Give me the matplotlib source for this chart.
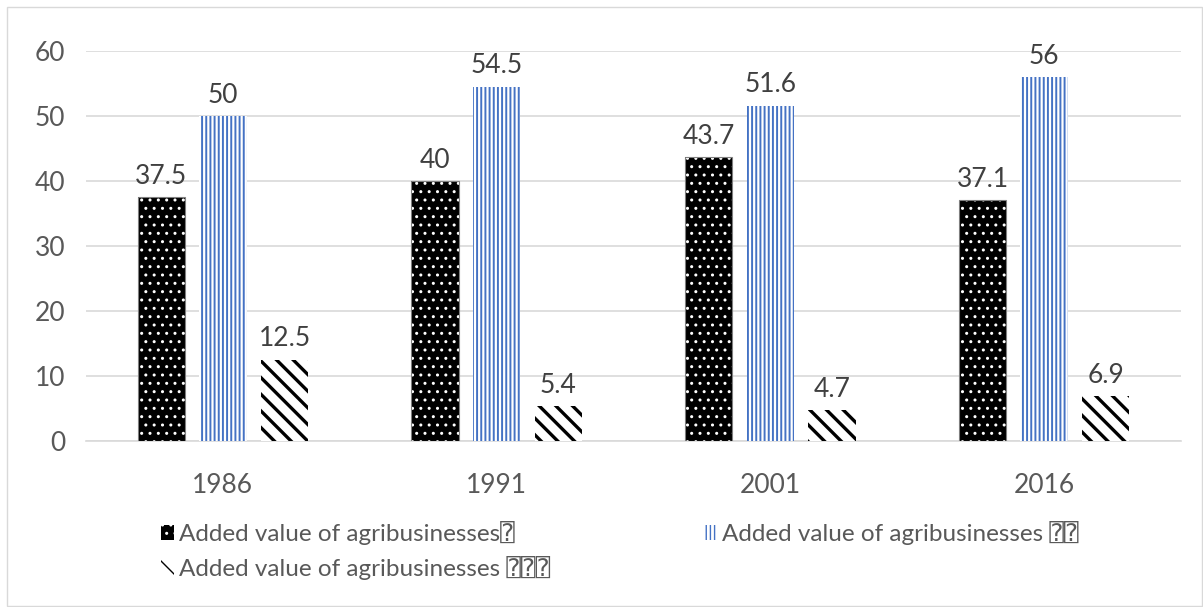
import matplotlib
matplotlib.use("Agg")
import matplotlib.pyplot as plt
import numpy as np
from matplotlib.patches import Rectangle, Patch

# Data
years = ["1986", "1991", "2001", "2016"]
series_a = [37.5, 40, 43.7, 37.1]
series_b = [50, 54.5, 51.6, 56]
series_c = [12.5, 5.4, 4.7, 6.9]
labels = [
    "Added value of agribusinesses\u2370",
    "Added value of agribusinesses \u2370\u2370",
    "Added value of agribusinesses \u2370\u2370\u2370",
]
y_ticks = [0, 10, 20, 30, 40, 50, 60]

FONT = ["Lato", "DejaVu Sans", "DejaVu Sans Mono"]
plt.rcParams["font.family"] = FONT

W, H = 1203, 607
fig = plt.figure(figsize=(W / 100, H / 100), dpi=100)
ax = fig.add_axes([86 / W, 1 - 441 / H, (1181 - 86) / W, (441 - 51) / H])

x = np.arange(len(years))
width = 0.173
step = 0.225

blue = "#4472C4"
grid_c = "#D9D9D9"
tick_c = "#595959"
lab_c = "#404040"

STYLE_A = ("black", "..", "white", 1.0)
STYLE_B = ("white", "||||", blue, 1.4)
STYLE_C = ("white", "\\\\", "black", 2.4)


def hatched_bar(xpos, vals, style):
    face, hatch, hcolor, hlw = style
    with plt.rc_context({"hatch.linewidth": hlw}):
        bars = ax.bar(xpos, vals, width, color=face, edgecolor=hcolor,
                      hatch=hatch, linewidth=0, zorder=3)
    for b in bars:
        if hasattr(b, "set_hatch_linewidth"):
            b.set_hatch_linewidth(hlw)
    return bars


bars_a = hatched_bar(x - step, series_a, STYLE_A)
ax.bar(x - step, series_a, width, fill=False, edgecolor="#7F7F7F",
       linewidth=0.8, zorder=4)
bars_b = hatched_bar(x, series_b, STYLE_B)
bars_c = hatched_bar(x + step, series_c, STYLE_C)

for bars in (bars_a, bars_b, bars_c):
    ax.bar_label(bars, labels=[f"{v:g}" for v in bars.datavalues],
                 padding=6, fontsize=19, color=lab_c)

ax.set_xlim(-0.5, len(years) - 0.5)
ax.set_ylim(0, 60)
ax.set_yticks(y_ticks)
ax.set_xticks(x)
ax.set_xticklabels(years)
ax.tick_params(axis="both", length=0, labelsize=19, colors=tick_c)
ax.tick_params(axis="y", pad=15)
ax.tick_params(axis="x", pad=23)
ax.yaxis.grid(True, color=grid_c, linewidth=1.2, zorder=0)
ax.set_axisbelow(True)
for s in ("top", "right", "left"):
    ax.spines[s].set_visible(False)
ax.spines["bottom"].set_color(grid_c)
ax.spines["bottom"].set_linewidth(1.2)


# Legend (row-wise order: first, second on top row; third below)
def legend_patch(style):
    face, hatch, hcolor, hlw = style
    with plt.rc_context({"hatch.linewidth": hlw}):
        p = Patch(facecolor=face, edgecolor=hcolor, hatch=hatch, linewidth=0)
    if hasattr(p, "set_hatch_linewidth"):
        p.set_hatch_linewidth(hlw)
    return p


h_a = legend_patch(STYLE_A)
h_b = legend_patch(STYLE_B)
h_c = legend_patch(STYLE_C)

leg = fig.legend([h_a, h_c, h_b], [labels[0], labels[2], labels[1]],
                 ncol=2, loc="upper left", bbox_to_anchor=(161 / W, 1 - 521 / H),
                 frameon=False, fontsize=17.5, handlelength=0.55, handleheight=0.6,
                 handletextpad=0.2, columnspacing=6.3, labelspacing=0.45,
                 borderaxespad=0, borderpad=0)
for t in leg.get_texts():
    t.set_color(tick_c)

# Chart border
fig.add_artist(Rectangle((7 / W, 1 / H), (1202 - 7) / W, (600 - 1) / H,
                         transform=fig.transFigure, fill=False,
                         edgecolor=grid_c, linewidth=1.0))

fig.savefig("out.png", dpi=100)
